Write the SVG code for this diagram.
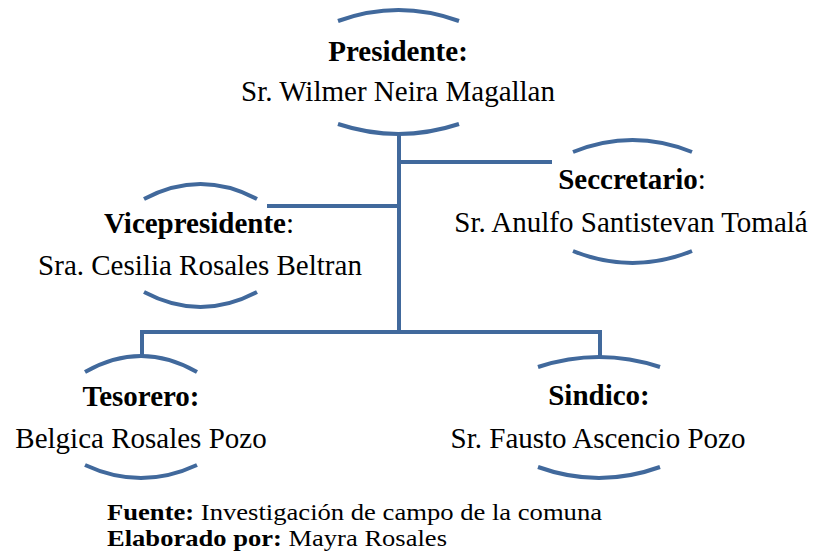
<svg xmlns="http://www.w3.org/2000/svg" width="818" height="557" viewBox="0 0 818 557">
<style>
.arc{fill:none;stroke:#41699c;stroke-width:4;}
.ln{fill:none;stroke:#41699c;stroke-width:4;}
text{font-family:"Liberation Serif","Times New Roman",serif;font-size:29px;fill:#000;text-anchor:middle;}
.b{font-weight:bold;}
.ft{font-size:22.5px;text-anchor:start;}
</style>
<rect width="818" height="557" fill="#fff"/>
<g id="connectors">
<path class="ln" d="M399,134 V332"/>
<path class="ln" d="M399,162 H552"/>
<path class="ln" d="M267,206 H399"/>
<path class="ln" d="M142,356 V332 H600 V357"/>
</g>
<g id="presidente">
<path class="arc" d="M338,21 Q398.5,-1 459,21"/>
<path class="arc" d="M338,124 Q398.5,144 459,124"/>
<text x="398" y="61" class="b">Presidente:</text>
<text x="398" y="101">Sr. Wilmer Neira Magallan</text>
</g>
<g id="vicepresidente">
<path class="arc" d="M144,199 Q200.5,169 257,199"/>
<path class="arc" d="M144,292 Q200.5,322 257,292"/>
<text x="199" y="233"><tspan class="b">Vicepresidente</tspan>:</text>
<text x="200" y="275">Sra. Cesilia Rosales Beltran</text>
</g>
<g id="secretario">
<path class="arc" d="M573,152 Q632.5,128 692,152"/>
<path class="arc" d="M573,251 Q632.5,275 692,251"/>
<text x="632" y="189"><tspan class="b">Seccretario</tspan>:</text>
<text x="631" y="232">Sr. Anulfo Santistevan Tomalá</text>
</g>
<g id="tesorero">
<path class="arc" d="M85,372 Q141,340 197,372"/>
<path class="arc" d="M85,465 Q141,491 197,465"/>
<text x="141" y="406" class="b">Tesorero:</text>
<text x="141" y="448">Belgica Rosales Pozo</text>
</g>
<g id="sindico">
<path class="arc" d="M538,367 Q599,347 660,367"/>
<path class="arc" d="M538,467 Q599,489 660,467"/>
<text x="599" y="405" class="b">Sindico:</text>
<text x="598" y="448">Sr. Fausto Ascencio Pozo</text>
</g>
<g id="footer">
<text x="107" y="520" class="ft" textLength="495" lengthAdjust="spacingAndGlyphs"><tspan class="b">Fuente:</tspan> Investigación de campo de la comuna</text>
<text x="107" y="546" class="ft" textLength="340" lengthAdjust="spacingAndGlyphs"><tspan class="b">Elaborado por:</tspan> Mayra Rosales</text>
</g>
</svg>
